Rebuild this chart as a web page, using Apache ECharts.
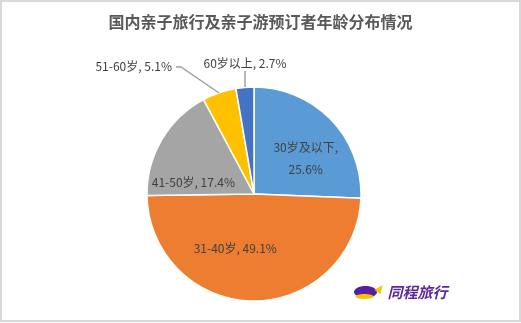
<!DOCTYPE html>
<html>
<head>
<meta charset="utf-8">
<script src="https://cdn.jsdelivr.net/npm/echarts@6/dist/echarts.min.js"></script>
<style>
html,body{margin:0;padding:0;background:#fff;}
#c{width:521px;height:323px;}
</style>
</head>
<body>
<div id="c"></div>
<script>
const titleText = '国内亲子旅行及亲子游预订者年龄分布情况';
const categories = ['30岁及以下', '31-40岁', '41-50岁', '51-60岁', '60岁以上'];
const values = [25.6, 49.1, 17.4, 5.1, 2.7];
const colors = ['#5B9BD5', '#ED7D31', '#A5A5A5', '#FFC000', '#4472C4'];

const FONT = '"Noto Sans CJK SC", "Noto Sans", sans-serif';
const CX = 254, CY = 194, R = 107;
const chart = echarts.init(document.getElementById('c'), null, {renderer: 'canvas'});

const data = categories.map((c, i) => {
  const item = {name: c, value: values[i], itemStyle: {color: colors[i]}};
  item.label = {position: i < 3 ? 'inside' : 'outside'};
  item.labelLine = {show: false};
  return item;
});

const labelShift = [[11, 4], [-18, -2], [-12, 17], [0, 0], [0, 0]];
const anchorFrac = [0.5, 0.5, 0.5, 0.5, 0.5];

const total = values.reduce((a, b) => a + b, 0);
function rimPoint(i) {
  let cum = 0;
  for (let k = 0; k < i; k++) cum += values[k];
  const a = (cum + anchorFrac[i] * values[i]) / total * 2 * Math.PI;
  return [Math.round(CX + R * Math.sin(a)), Math.round(CY - R * Math.cos(a))];
}

const p3 = rimPoint(3);
const e3 = [p3[0] - 38, p3[1] - 26];
const t3 = [e3[0] - 5, e3[1]];
const p4 = rimPoint(4);
const t4 = [p4[0], p4[1] - 16];
const LINE = {stroke: '#a0a0a0', lineWidth: 1.5};

chart.setOption({
  animation: false,
  backgroundColor: '#fff',
  title: {
    text: titleText,
    left: 'center',
    top: 9,
    textStyle: {fontFamily: FONT, fontSize: 16, fontWeight: 'bold', color: '#595959'}
  },
  graphic: [
    {type: 'rect', shape: {x: 1, y: 1, width: 519, height: 320}, style: {fill: 'none', stroke: '#d9d9d9', lineWidth: 2}, silent: true},
    {type: 'polyline', shape: {points: [p3, e3, t3]}, style: Object.assign({fill: null}, LINE), silent: true, z: 100, zlevel: 1},
    {type: 'polyline', shape: {points: [p4, t4]}, style: Object.assign({fill: null}, LINE), silent: true, z: 100, zlevel: 1},
    {type: 'group', left: 354, top: 285, children: [
      {type: 'ellipse', shape: {cx: 12, cy: 8, rx: 11.5, ry: 6}, style: {fill: '#5a1fa0'}},
      {type: 'polygon', shape: {points: [[21, 6], [29, 1], [27, 10]]}, style: {fill: '#f5c400'}},
      {type: 'ellipse', shape: {cx: 11, cy: 12.5, rx: 9, ry: 2.4}, style: {fill: '#f5c400'}},
      {type: 'text', style: {x: 34, y: 1, text: '同程旅行', font: 'italic bold 15px ' + FONT, fill: '#5a2a9a'}}
    ]}
  ],
  series: [{
    type: 'pie',
    center: [CX, CY],
    radius: [0, R],
    startAngle: 90,
    clockwise: true,
    avoidLabelOverlap: false,
    itemStyle: {borderColor: '#fff', borderWidth: 1.5},
    label: {
      show: true,
      fontFamily: FONT,
      fontSize: 12,
      color: '#404040',
      lineHeight: 22,
      formatter: function (p) {
        if (p.dataIndex === 0) return p.name + ',\n' + p.value.toFixed(1) + '%';
        return p.name + ', ' + p.value.toFixed(1) + '%';
      }
    },
    labelLayout: function (p) {
      const i = p.dataIndex;
      if (i === 3) {
        return {x: t3[0] - 4, y: t3[1] - 1, align: 'right', verticalAlign: 'middle'};
      }
      if (i === 4) {
        return {x: t4[0], y: t4[1] - 8, align: 'center', verticalAlign: 'middle'};
      }
      const s = labelShift[i];
      return {dx: s[0], dy: s[1]};
    },
    data: data
  }]
});
</script>
</body>
</html>
